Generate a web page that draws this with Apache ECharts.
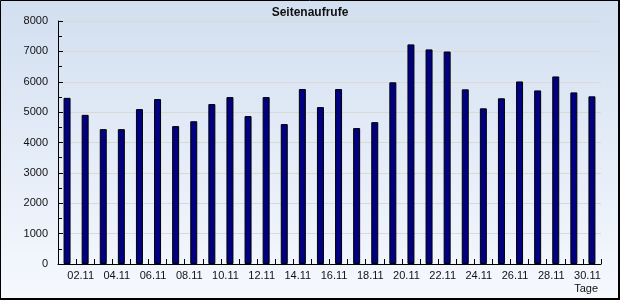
<!DOCTYPE html>
<html>
<head>
<meta charset="utf-8">
<script src="https://cdn.jsdelivr.net/npm/echarts@6/dist/echarts.min.js"></script>
<style>
html,body{margin:0;padding:0;background:#fff;}
#c{width:620px;height:300px;}
</style>
</head>
<body>
<div id="c"></div>
<script>
const days = ['01.11','02.11','03.11','04.11','05.11','06.11','07.11','08.11','09.11','10.11',
  '11.11','12.11','13.11','14.11','15.11','16.11','17.11','18.11','19.11','20.11',
  '21.11','22.11','23.11','24.11','25.11','26.11','27.11','28.11','29.11','30.11'];
const views = [5470,4910,4440,4440,5100,5430,4540,4700,5265,5495,
  4870,5495,4605,5760,5165,5760,4475,4670,5980,7230,
  7065,6995,5750,5125,5455,6010,5715,6175,5650,5520];
const titleText = 'Seitenaufrufe';
const xName = 'Tage';

const chart = echarts.init(document.getElementById('c'), null, {renderer:'canvas'});
chart.setOption({
  animation:false,
  backgroundColor:{type:'linear',x:0,y:0,x2:0,y2:1,colorStops:[{offset:0,color:'#d2dff0'},{offset:1,color:'#f6f9fe'}]},
  title:{text:titleText,left:'center',top:2,textStyle:{fontFamily:'Liberation Sans',fontSize:12,fontWeight:'bold',color:'#111'}},
  grid:{left:58,right:19,top:21,bottom:36},
  xAxis:{
    type:'category',data:days,boundaryGap:true,
    axisLine:{lineStyle:{color:'#000',width:1}},
    axisTick:{show:true,inside:true,length:5,interval:0,alignWithLabel:false,lineStyle:{color:'#000'}},
    axisLabel:{interval:0,margin:6,fontFamily:'Liberation Sans',fontSize:11,color:'#111',
      padding:[0,9,0,0],
      formatter:(v,i)=> (i%2===1? v : '')}
  },
  yAxis:{
    type:'value',min:0,max:8000,interval:1000,
    axisLine:{show:true,lineStyle:{color:'#000',width:1}},
    axisTick:{show:true,inside:true,length:5,lineStyle:{color:'#000'}},
    minorTick:{show:true,splitNumber:2,length:4,lineStyle:{color:'#000'}},
    axisLabel:{margin:10,fontFamily:'Liberation Sans',fontSize:11,color:'#111',formatter:(v)=>String(v)},
    splitLine:{show:true,lineStyle:{color:'#dcd8d2',width:1}}
  },
  series:[{type:'bar',data:views,barWidth:7,
    itemStyle:{color:'#000080',borderColor:'#000',borderWidth:1}}],
  graphic:[
    {type:'text',right:22,top:283,style:{text:xName,fontFamily:'Liberation Sans',fontSize:11,fill:'#111'}},
    {type:'rect',silent:true,shape:{x:0.5,y:0.5,width:618,height:298},style:{fill:'none',stroke:'#000',lineWidth:1}},
    {type:'line',silent:true,shape:{x1:619,y1:0,x2:619,y2:300},style:{stroke:'#000',lineWidth:2}},
    {type:'line',silent:true,shape:{x1:0,y1:299,x2:620,y2:299},style:{stroke:'#000',lineWidth:2}}
  ]
});
</script>
</body>
</html>
